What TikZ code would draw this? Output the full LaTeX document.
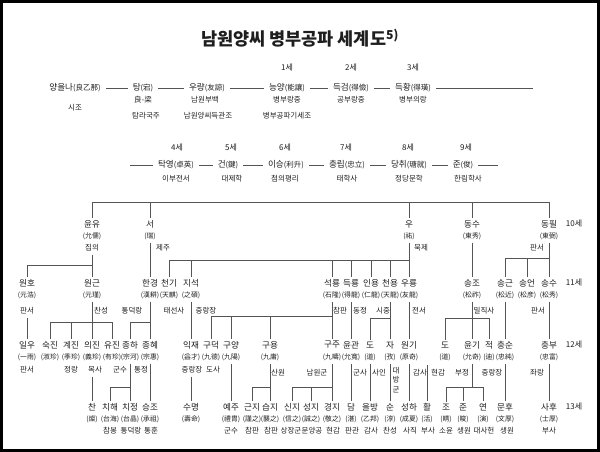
\documentclass[tikz,border=0pt]{standalone}
\usepackage{fontspec}
\setmainfont{Noto Sans CJK KR}
\definecolor{txt}{HTML}{1E1E1E}
\definecolor{lnc}{HTML}{555555}
\newcommand\hjf{\fontsize{7.5}{8}\selectfont}
\newcommand\Pn[5]{\node[nm] (#1) at (#2,#3) {#4}; \node[hj] (#1h) at (#2,#3+12) {#5};}
\tikzset{
  nm/.style={inner sep=0pt, text=txt, font=\fontsize{8.6}{9}\selectfont},
  hj/.style={inner sep=0pt, text=txt, font=\fontsize{6.8}{7}\selectfont},
  tt/.style={inner sep=0pt, text=txt, font=\fontsize{7.5}{8}\selectfont},
  gen/.style={inner sep=0pt, text=txt, font=\fontsize{8}{8}\selectfont},
  ln/.style={draw=lnc, line width=0.6pt},
  hl/.style={ln, shorten <=5pt, shorten >=5pt},
  dn/.style={ln, shorten <=3pt, shorten >=2pt},
  dd/.style={ln, shorten >=2pt}
}
\begin{document}
\begin{tikzpicture}[x=1pt,y=-1pt]
\useasboundingbox (0,0) rectangle (600,452);
\draw[line width=2.2pt] (1.5,1.5) rectangle (598.5,450.5);
\node[inner sep=0pt, text=txt, font=\fontsize{17.5}{19}\selectfont\bfseries] (title) at (300,38) {남원양씨 병부공파 세계도\textsuperscript{5)}};

% row 1
\node[gen] (s1) at (287,68) {1세};
\node[gen] (s2) at (351,68) {2세};
\node[gen] (s3) at (413,68) {3세};
\node[nm] (p0) at (75,88) {양을나{\hjf(良乙那)}};
\node[tt] (p0a) at (75,108) {시조};
\node[nm] (p1) at (143,88) {탕{\hjf(宕)}};
\node[tt] (p1a) at (143,100) {良-梁};
\node[tt] (p1b) at (146,116) {탐라국주};
\node[nm] (p2) at (207,88) {우량{\hjf(友諒)}};
\node[tt] (p2a) at (205,100) {남원부백};
\node[tt] (p2b) at (208,116) {남원양씨득관조};
\node[nm] (p3) at (287,88) {능양{\hjf(能讓)}};
\node[tt] (p3a) at (287,100) {병부랑중};
\node[tt] (p3b) at (287,116) {병부공파기세조};
\node[nm] (p4) at (351,88) {득검{\hjf(得儉)}};
\node[tt] (p4a) at (351,100) {공부랑중};
\node[nm] (p5) at (413,88) {득황{\hjf(得璜)}};
\node[tt] (p5a) at (413,100) {병부의랑};
\coordinate (p5e) at (533,88);
\draw[hl] (p0) -- (p1);
\draw[hl] (p1) -- (p2);
\draw[hl] (p2) -- (p3);
\draw[hl] (p3) -- (p4);
\draw[hl] (p4) -- (p5);
\draw[ln, shorten <=5pt] (p5) -- (p5e);

% row 2
\node[gen] (s4) at (177,148) {4세};
\node[gen] (s5) at (231,148) {5세};
\node[gen] (s6) at (285,148) {6세};
\node[gen] (s7) at (346,148) {7세};
\node[gen] (s8) at (408,148) {8세};
\node[gen] (s9) at (466,148) {9세};
\coordinate (q0) at (130,165);
\node[nm] (q1) at (176,165) {탁영{\hjf(卓英)}};
\node[tt] (q1a) at (176,179) {이부전서};
\node[nm] (q2) at (228,165) {건{\hjf(鍵)}};
\node[tt] (q2a) at (232,179) {대제학};
\node[nm] (q3) at (286,165) {이승{\hjf(利升)}};
\node[tt] (q3a) at (285,179) {첨의평리};
\node[nm] (q4) at (347,165) {충립{\hjf(忠立)}};
\node[tt] (q4a) at (347,179) {태학사};
\node[nm] (q5) at (409,165) {당취{\hjf(瑭就)}};
\node[tt] (q5a) at (409,179) {정당문학};
\node[nm] (q6) at (463,165) {준{\hjf(俊)}};
\node[tt] (q6a) at (468,179) {한림학사};
\coordinate (q6e) at (498,165);
\draw[ln, shorten >=5pt] (q0) -- (q1);
\draw[hl] (q1) -- (q2);
\draw[hl] (q2) -- (q3);
\draw[hl] (q3) -- (q4);
\draw[hl] (q4) -- (q5);
\draw[hl] (q5) -- (q6);
\draw[ln, shorten <=5pt] (q6) -- (q6e);

% 10 se
\Pn{g10a}{92}{224}{윤유}{(允儒)}
\node[tt] (g10at) at (92,248) {집의};
\Pn{g10b}{150}{224}{서}{(瑞)}
\node[tt] (g10bt) at (163,248) {제주};
\Pn{g10c}{409}{224}{우}{(祐)}
\node[tt] (g10ct) at (421,248) {묵제};
\Pn{g10d}{472}{224}{동수}{(東秀)}
\Pn{g10e}{549}{224}{동필}{(東弼)}
\node[tt] (g10et) at (537,248) {판서};
\node[gen] (s10) at (574,224) {10세};

% 11 se
\Pn{g11a}{27}{283}{원호}{(元浩)}
\node[tt] (g11at) at (27,311) {판서};
\Pn{g11b}{92}{283}{원근}{(元瑾)}
\node[tt] (g11bt) at (101,311) {찬성};
\Pn{g11c}{150}{283}{한경}{(漢耕)}
\node[tt] (g11ct) at (132,311) {통덕랑};
\Pn{g11d}{169}{283}{천기}{(天麒)}
\node[tt] (g11dt) at (174,311) {태선사};
\Pn{g11e}{191}{283}{지석}{(之碩)}
\node[tt] (g11et) at (206,311) {중랑장};
\Pn{g11f}{332}{283}{석룡}{(石隆)}
\node[tt] (g11ft) at (340,311) {참판};
\Pn{g11g}{351}{283}{득룡}{(得龍)}
\node[tt] (g11gt) at (360,311) {동정};
\Pn{g11h}{371}{283}{인용}{(仁龍)}
\node[tt] (g11ht) at (383,311) {시중};
\Pn{g11i}{390}{283}{천용}{(天龍)}
\Pn{g11o}{409}{283}{우룡}{(友龍)}
\node[tt] (g11ot) at (419,311) {전서};
\Pn{g11j}{472}{283}{송조}{(松祚)}
\node[tt] (g11jt) at (484,311) {밀직사};
\Pn{g11k}{505}{283}{송근}{(松近)}
\Pn{g11l}{527}{283}{송언}{(松彦)}
\Pn{g11m}{549}{283}{송수}{(松秀)}
\node[tt] (g11mt) at (538,311) {판서};
\node[gen] (s11) at (574,283) {11세};

% 12 se
\Pn{g12a}{27}{345}{일우}{(一雨)}
\node[tt] (g12at) at (27,370) {판서};
\Pn{g12b}{50}{345}{숙진}{(淑珍)}
\Pn{g12c}{71}{345}{계진}{(季珍)}
\node[tt] (g12ct) at (71,370) {정랑};
\Pn{g12d}{92}{345}{의진}{(義珍)}
\node[tt] (g12dt) at (95,370) {목사};
\Pn{g12e}{112}{345}{유진}{(有珍)}
\Pn{g12f}{130}{345}{종하}{(宗河)}
\node[tt] (g12ft) at (120,370) {군수};
\Pn{g12g}{150}{345}{종혜}{(宗惠)}
\node[tt] (g12gt) at (141,370) {통정};
\Pn{g12h}{191}{345}{익재}{(益才)}
\node[tt] (g12ht) at (192,370) {중랑장};
\Pn{g12i}{211}{345}{구덕}{(九德)}
\node[tt] (g12it) at (213,370) {도사};
\Pn{g12j}{231}{345}{구양}{(九陽)}
\Pn{g12k}{270}{345}{구용}{(九庸)}
\node[tt] (g12kt) at (278,373) {산원};
\Pn{g12m}{332}{345}{구주}{(九疇)}
\node[tt] (g12mt) at (317,373) {남원군};
\Pn{g12n}{351}{345}{윤관}{(允寬)}
\node[tt] (g12nt) at (360,373) {군사};
\Pn{g12o}{370}{345}{도}{(道)}
\node[tt] (g12ot) at (379,373) {사인};
\Pn{g12p}{390}{345}{자}{(孜)}
\node[tt, align=center, font=\fontsize{7.5}{9.5}\selectfont] (g12pt) at (396,380) {대\\방\\군};
\Pn{g12q}{409}{345}{원기}{(原奇)}
\node[tt] (g12qt) at (420,373) {감사};
\Pn{g12r}{445}{345}{도}{(道)}
\node[tt] (g12rt) at (438,373) {현감};
\Pn{g12s}{472}{345}{윤기}{(允奇)}
\node[tt] (g12st) at (462,373) {부정};
\Pn{g12t}{489}{345}{적}{(迪)}
\node[tt] (g12tt) at (492,373) {중랑장};
\Pn{g12u}{505}{345}{충순}{(忠純)}
\Pn{g12v}{549}{345}{충부}{(忠富)}
\node[tt] (g12vt) at (537,373) {좌랑};
\node[gen] (s12) at (574,345) {12세};

% 13 se
\Pn{g13a}{92}{407}{찬}{(燦)}
\Pn{g13b}{110}{407}{치해}{(台海)}
\node[tt] (g13bt) at (110,431) {참봉};
\Pn{g13c}{130}{407}{치정}{(台晶)}
\node[tt] (g13ct) at (131,431) {통덕랑};
\Pn{g13d}{150}{407}{승조}{(承祖)}
\node[tt] (g13dt) at (151,431) {통훈};
\Pn{g13e}{191}{407}{수명}{(壽命)}
\Pn{g13f}{231}{407}{예주}{(禮胄)}
\node[tt] (g13ft) at (231,431) {군수};
\Pn{g13g}{252}{407}{근지}{(謹之)}
\node[tt] (g13gt) at (252,431) {참판};
\Pn{g13h}{270}{407}{습지}{(襲之)}
\node[tt] (g13ht) at (271,431) {참판};
\Pn{g13i}{292}{407}{신지}{(信之)}
\node[tt] (g13it) at (291,431) {상장군};
\Pn{g13j}{311}{407}{성지}{(誠之)}
\node[tt] (g13jt) at (312,431) {문양공};
\Pn{g13k}{332}{407}{경지}{(敬之)}
\node[tt] (g13kt) at (333,431) {현감};
\Pn{g13l}{351}{407}{담}{(湛)}
\node[tt] (g13lt) at (352,431) {판관};
\Pn{g13m}{370}{407}{을방}{(乙邦)}
\node[tt] (g13mt) at (371,431) {감사};
\Pn{g13n}{390}{407}{순}{(淳)}
\node[tt] (g13nt) at (390,431) {찬성};
\Pn{g13o}{409}{407}{성하}{(成夏)}
\node[tt] (g13ot) at (410,431) {사직};
\Pn{g13p}{427}{407}{활}{(活)}
\node[tt] (g13pt) at (428,431) {부사};
\Pn{g13q}{446}{407}{조}{(晴)}
\node[tt] (g13qt) at (446,431) {소윤};
\Pn{g13r}{463}{407}{준}{(晙)}
\node[tt] (g13rt) at (464,431) {생원};
\Pn{g13s}{483}{407}{연}{(演)}
\node[tt] (g13st) at (484,431) {대사헌};
\Pn{g13t}{505}{407}{문후}{(文厚)}
\node[tt] (g13tt) at (507,431) {생원};
\Pn{g13u}{549}{407}{사후}{(士厚)}
\node[tt] (g13ut) at (549,431) {부사};
\node[gen] (s13) at (574,407) {13세};

% bus of 10 se
\coordinate (bus0) at (92,202);
\coordinate (bus1) at (549,202);
\draw[ln] (bus0) -- (bus1);
\foreach \n in {g10a,g10b,g10c,g10d,g10e} \draw[dd] (bus0 -| \n) -- (\n.north);

% 10 -> 11
\coordinate (ja) at (92,265);
\draw[ln, shorten <=3pt] (g10at.south) -- (ja);
\draw[dd] (ja) -| (g11a.north);
\draw[dd] (ja) -- (g11b.north);
\draw[dn] (g10bh.south) -- (g11c.north);
\coordinate (jc) at (409,260);
\draw[dn] (g10ch.south) -- (g11o.north);
\draw[dd] (jc) -| (g11d.north);
\foreach \n in {g11e,g11f,g11g,g11h,g11i} \draw[dd] (jc -| \n) -- (\n.north);
\draw[dn] (g10dh.south) -- (g11j.north);
\coordinate (je) at (549,258);
\draw[dn] (g10eh.south) -- (g11m.north);
\draw[dd] (je) -| (g11k.north);
\draw[dd] (je -| g11l) -- (g11l.north);

% 11 -> 12
\draw[dn] (g11at.south) -- (g12a.north);
\coordinate (jb) at (92,322);
\draw[ln, shorten <=3pt] (g11bh.south) -- (jb);
\draw[ln] (jb -| g12b) -- (jb -| g12e);
\foreach \n in {g12b,g12c,g12d,g12e} \draw[dd] (jb -| \n) -- (\n.north);
\coordinate (jcc) at (150,322);
\draw[dn] (g11ch.south) -- (g12g.north);
\draw[dd] (jcc) -| (g12f.north);
\draw[dn] (g11eh.south) -- (g12h.north);
\coordinate (jf) at (332,316);
\draw[dn] (g11fh.south) -- (g12m.north);
\draw[dd] (jf) -| (g12i.north);
\foreach \n in {g12j,g12k} \draw[dd] (jf -| \n) -- (\n.north);
\draw[dn] (g11gh.south) -- (g12n.north);
\coordinate (ji) at (390,318);
\draw[dn] (g11ih.south) -- (g12p.north);
\draw[dd] (ji) -| (g12o.north);
\draw[dn] (g11oh.south) -- (g12q.north);
\coordinate (jj) at (472,318);
\draw[dn] (g11jh.south) -- (g12s.north);
\draw[ln] (jj -| g12r) -- (jj -| g12t);
\foreach \n in {g12r,g12t} \draw[dd] (jj -| \n) -- (\n.north);
\draw[dn] (g11kh.south) -- (g12u.north);
\draw[dn] (g11mh.south) -- (g12v.north);

% 12 -> 13
\draw[dn] (g12dt.south -| g13a) -- (g13a.north);
\coordinate (k1) at (130,387);
\draw[dn] (g12fh.south) -- (g13c.north);
\draw[dd] (k1) -| (g13b.north);
\draw[dn] (g12gh.south) -- (g13d.north);
\draw[dn] (g12ht.south -| g13e) -- (g13e.north);
\draw[dn] (g12jh.south) -- (g13f.north);
\coordinate (k2) at (270,387);
\draw[dn] (g12kh.south) -- (g13h.north);
\draw[dd] (k2) -| (g13g.north);
\coordinate (k3) at (332,387);
\draw[dn] (g12mh.south) -- (g13k.north);
\draw[dd] (k3) -| (g13i.north);
\draw[dd] (k3 -| g13j) -- (g13j.north);
\draw[dn] (g12nh.south) -- (g13l.north);
\draw[dn] (g12oh.south) -- (g13m.north);
\draw[dn] (g12ph.south) -- (g13n.north);
\draw[dn] (g12qh.south) -- (g13o.north);
\coordinate (k5) at (427,365);
\draw[dd] (k5) -- (g13p.north);
\coordinate (k6) at (472,387);
\draw[ln, shorten <=3pt] (g12sh.south) -- (k6);
\draw[ln] (k6 -| g13q) -- (k6 -| g13s);
\foreach \n in {g13q,g13r,g13s} \draw[dd] (k6 -| \n) -- (\n.north);
\draw[dn] (g12uh.south) -- (g13t.north);
\draw[dn] (g12vh.south) -- (g13u.north);
\end{tikzpicture}
\end{document}
